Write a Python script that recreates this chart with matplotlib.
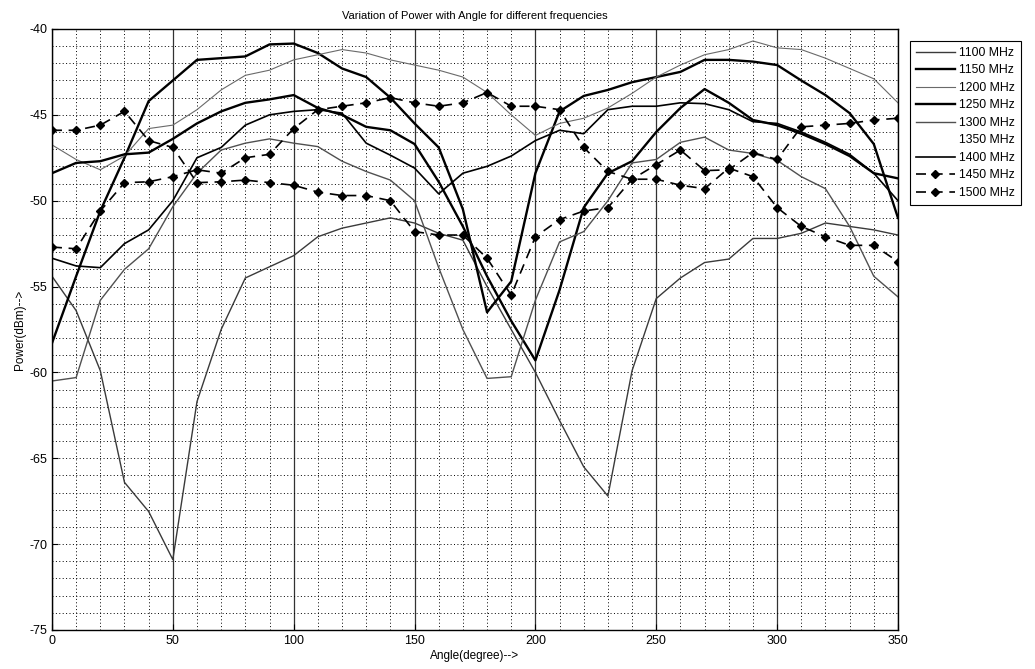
import matplotlib
matplotlib.use("Agg")
import matplotlib.pyplot as plt
import numpy as np
from matplotlib.ticker import MultipleLocator

plt.rcParams['font.family'] = ['Liberation Sans', 'DejaVu Sans']
plt.rcParams['axes.unicode_minus'] = False

angle = list(range(0, 360, 10))

p1100 = [-54.4, -56.4, -59.9, -66.4, -68.1, -70.9, -61.7, -57.5, -54.5, -53.85,
         -53.2, -52.1, -51.6, -51.3, -51.0, -51.3, -51.9, -52.3, -55.0, -57.5,
         -60.0, -62.8, -65.5, -67.2, -59.9, -55.7, -54.5, -53.6, -53.4, -52.2,
         -52.2, -51.9, -51.3, -51.5, -51.7, -52.0]
p1150 = [-58.3, -54.4, -50.6, -47.5, -44.2, -43.0, -41.8, -41.7, -41.6, -40.9,
         -40.85, -41.4, -42.3, -42.8, -44.0, -45.5, -46.9, -50.5, -56.5, -54.7,
         -48.4, -44.8, -43.9, -43.55, -43.1, -42.8, -42.5, -41.8, -41.8, -41.9,
         -42.1, -43.0, -43.85, -44.9, -46.7, -51.0]
p1200 = [-46.75, -47.6, -48.2, -47.4, -45.8, -45.6, -44.7, -43.55, -42.7, -42.4,
         -41.8, -41.5, -41.2, -41.4, -41.8, -42.1, -42.4, -42.8, -43.7, -45.0,
         -46.2, -45.5, -45.2, -44.6, -43.75, -42.8, -42.1, -41.5, -41.2, -40.7,
         -41.1, -41.2, -41.7, -42.3, -42.9, -44.3]
p1250 = [-48.4, -47.8, -47.7, -47.3, -47.2, -46.4, -45.5, -44.8, -44.3, -44.1,
         -43.85, -44.6, -45.0, -45.7, -45.9, -46.7, -48.9, -51.5, -54.4, -57.0,
         -59.3, -55.2, -50.4, -48.4, -47.7, -46.0, -44.6, -43.5, -44.3, -45.3,
         -45.6, -46.1, -46.7, -47.4, -48.4, -48.7]
p1300 = [-60.5, -60.3, -55.8, -54.0, -52.8, -50.35, -48.4, -47.05, -46.65, -46.4,
         -46.65, -46.85, -47.7, -48.3, -48.8, -50.0, -53.9, -57.5, -60.35, -60.25,
         -55.8, -52.4, -51.8, -50.0, -47.8, -47.6, -46.6, -46.3, -47.05, -47.25,
         -47.65, -48.6, -49.3, -51.5, -54.4, -55.6]
p1350 = []  # not visible in the scan
p1400 = [-53.35, -53.8, -53.9, -52.5, -51.7, -50.0, -47.5, -46.9, -45.6, -45.0,
         -44.8, -44.7, -44.9, -46.65, -47.35, -48.1, -49.6, -48.4, -48.0, -47.4,
         -46.5, -45.9, -46.1, -44.7, -44.5, -44.5, -44.3, -44.35, -44.7, -45.4,
         -45.5, -46.0, -46.6, -47.3, -48.4, -50.0]
p1450 = [-45.9, -45.9, -45.6, -44.8, -46.5, -46.9, -48.95, -48.9, -48.8, -48.95,
         -49.1, -49.5, -49.7, -49.7, -50.0, -51.8, -52.0, -52.0, -53.35, -55.5,
         -52.1, -51.1, -50.6, -50.4, -48.75, -47.9, -47.05, -48.25, -48.2, -47.2,
         -47.6, -45.7, -45.6, -45.5, -45.3, -45.2]
p1500 = [-52.7, -52.8, -50.6, -48.95, -48.9, -48.6, -48.2, -48.4, -47.5, -47.3,
         -45.8, -44.7, -44.5, -44.3, -44.0, -44.3, -44.5, -44.3, -43.7, -44.5,
         -44.5, -44.7, -46.9, -48.3, -48.75, -48.75, -49.1, -49.3, -48.1, -48.6,
         -50.4, -51.5, -52.1, -52.6, -52.6, -53.55]

fig = plt.figure(figsize=(10.35, 6.69), dpi=100)
ax = fig.add_axes([0.0502, 0.0583, 0.8174, 0.8984])

ax.plot(angle, p1100, color='#3a3a3a', lw=1.0, label='1100 MHz')
ax.plot(angle, p1150, color='black', lw=1.7, label='1150 MHz')
ax.plot(angle, p1200, color='#6a6a6a', lw=0.8, label='1200 MHz')
ax.plot(angle, p1250, color='black', lw=1.7, label='1250 MHz')
ax.plot(angle, p1300, color='#505050', lw=1.0, label='1300 MHz')
ax.plot(angle[:len(p1350)], p1350, color='white', lw=1.0, label='1350 MHz')
ax.plot(angle, p1400, color='black', lw=1.2, label='1400 MHz')
ax.plot(angle, p1450, color='black', lw=1.2, ls=(0, (6, 4)), marker='D',
        markersize=4.5, label='1450 MHz')
ax.plot(angle, p1500, color='black', lw=1.2, ls=(0, (6, 4)), marker='D',
        markersize=4.5, label='1500 MHz')

ax.set_xlim(0, 350)
ax.set_ylim(-75, -40)
ax.xaxis.set_major_locator(MultipleLocator(50))
ax.xaxis.set_minor_locator(MultipleLocator(10))
ax.yaxis.set_major_locator(MultipleLocator(5))
ax.yaxis.set_minor_locator(MultipleLocator(1))
ax.tick_params(which='both', direction='in', labelsize=9)
ax.tick_params(which='minor', length=0)
ax.tick_params(which='major', length=4)

ax.grid(which='minor', color='black', ls=(0, (1, 2.5)), lw=0.7)
ax.yaxis.grid(which='major', color='black', ls=(0, (1, 2.5)), lw=0.7)
ax.xaxis.grid(which='major', color='#333333', ls='-', lw=0.9)
ax.set_axisbelow(True)
for s in ax.spines.values():
    s.set_linewidth(1.0)

ax.set_title('Variation of Power with Angle for different frequencies',
             fontsize=8, pad=7)
ax.set_xlabel('Angle(degree)-->', fontsize=8.5, labelpad=2)
ax.set_ylabel('Power(dBm)-->', fontsize=8.5, labelpad=2)

leg = ax.legend(loc='upper left', bbox_to_anchor=(0.879, 0.939),
                bbox_transform=fig.transFigure, fontsize=8.8,
                fancybox=False, edgecolor='black', framealpha=1,
                handlelength=3.2, handletextpad=0.3, borderpad=0.5,
                labelspacing=0.45, borderaxespad=0)
leg.get_frame().set_linewidth(0.8)

fig.savefig('out.png', dpi=100)
